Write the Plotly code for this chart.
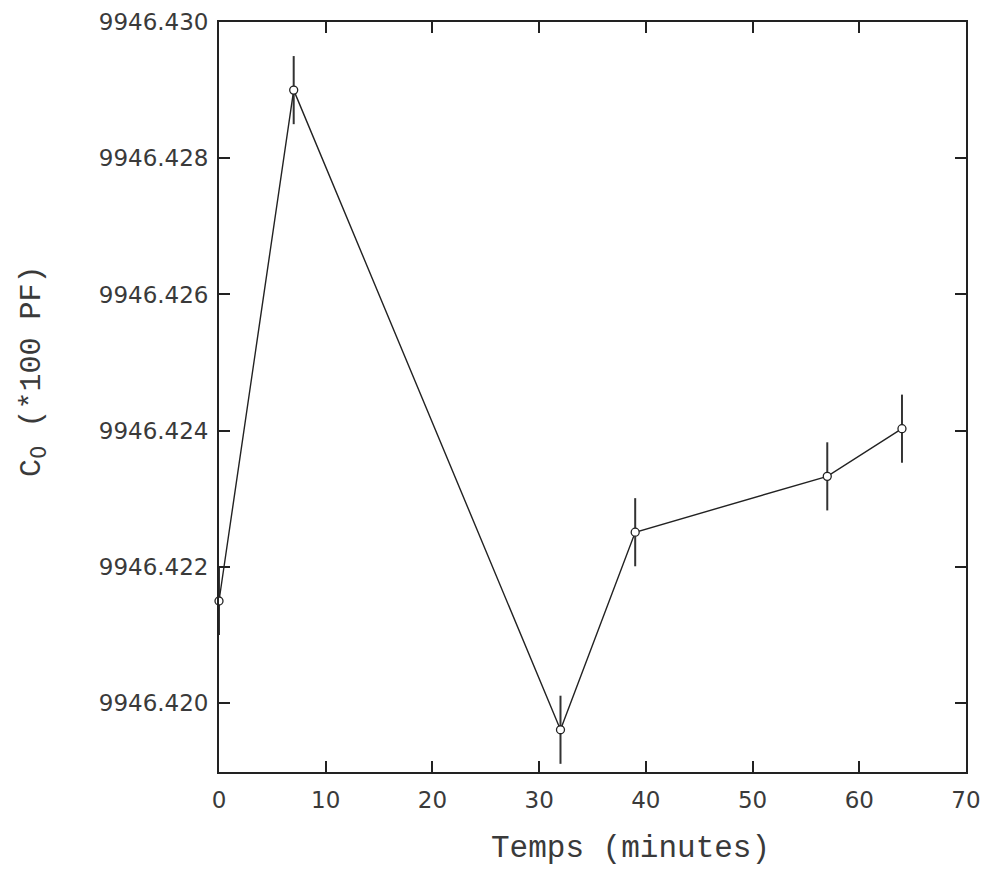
import plotly.graph_objects as go

# Data
temps = [0, 7, 32, 39, 57, 64]
c0 = [9946.4215, 9946.4290, 9946.41961, 9946.42251, 9946.42333, 9946.42403]
err = [0.0005, 0.0005, 0.0005, 0.0005, 0.0005, 0.0005]

x_ticks = [0, 10, 20, 30, 40, 50, 60, 70]
y_ticks = [9946.420, 9946.422, 9946.424, 9946.426, 9946.428, 9946.430]
y_labels = ["9946.420", "9946.422", "9946.424", "9946.426", "9946.428", "9946.430"]

fig = go.Figure()
fig.add_trace(go.Scatter(
    x=temps, y=c0, mode="lines+markers",
    line=dict(color="#222222", width=1.4),
    marker=dict(symbol="circle", size=8, color="white",
                line=dict(color="#222222", width=1.3)),
    error_y=dict(type="data", array=err, visible=True, thickness=2,
                 width=0, color="#333333"),
    cliponaxis=False, showlegend=False,
))

axis_common = dict(
    showgrid=False, zeroline=False, showline=True, linecolor="#222222",
    linewidth=1.8, mirror="ticks", ticks="inside", ticklen=11,
    tickwidth=1.6, tickcolor="#222222", automargin=False,
    tickfont=dict(family="DejaVu Sans", size=23, color="#3a3a3a"),
)

fig.update_xaxes(range=[0, 70], tickvals=x_ticks, ticklabelstandoff=6,
                 **axis_common)
fig.update_yaxes(range=[9946.41899, 9946.430], tickvals=y_ticks,
                 ticktext=y_labels, ticklabelstandoff=4, **axis_common)

fig.add_annotation(
    text="Temps (minutes)", xref="paper", yref="paper",
    x=(630 - 219) / (966 - 219), y=-(848 - 772) / (772 - 22),
    showarrow=False, xanchor="center", yanchor="middle",
    font=dict(family="Liberation Mono", size=31, color="#3a3a3a"),
)
fig.add_annotation(
    text="C<span style='font-family:DejaVu Sans;font-size:30px'><sub>0</sub></span> (*100 PF)",
    xref="paper", yref="paper",
    x=-(219 - 33) / (966 - 219), y=(772 - 372) / (772 - 22),
    showarrow=False, xanchor="center", yanchor="middle", textangle=-90,
    font=dict(family="Liberation Mono", size=30, color="#3a3a3a"),
)

fig.update_layout(
    width=986, height=876,
    margin=dict(l=219, r=20, t=22, b=104),
    plot_bgcolor="white", paper_bgcolor="white",
)

fig.write_html("out.html")
